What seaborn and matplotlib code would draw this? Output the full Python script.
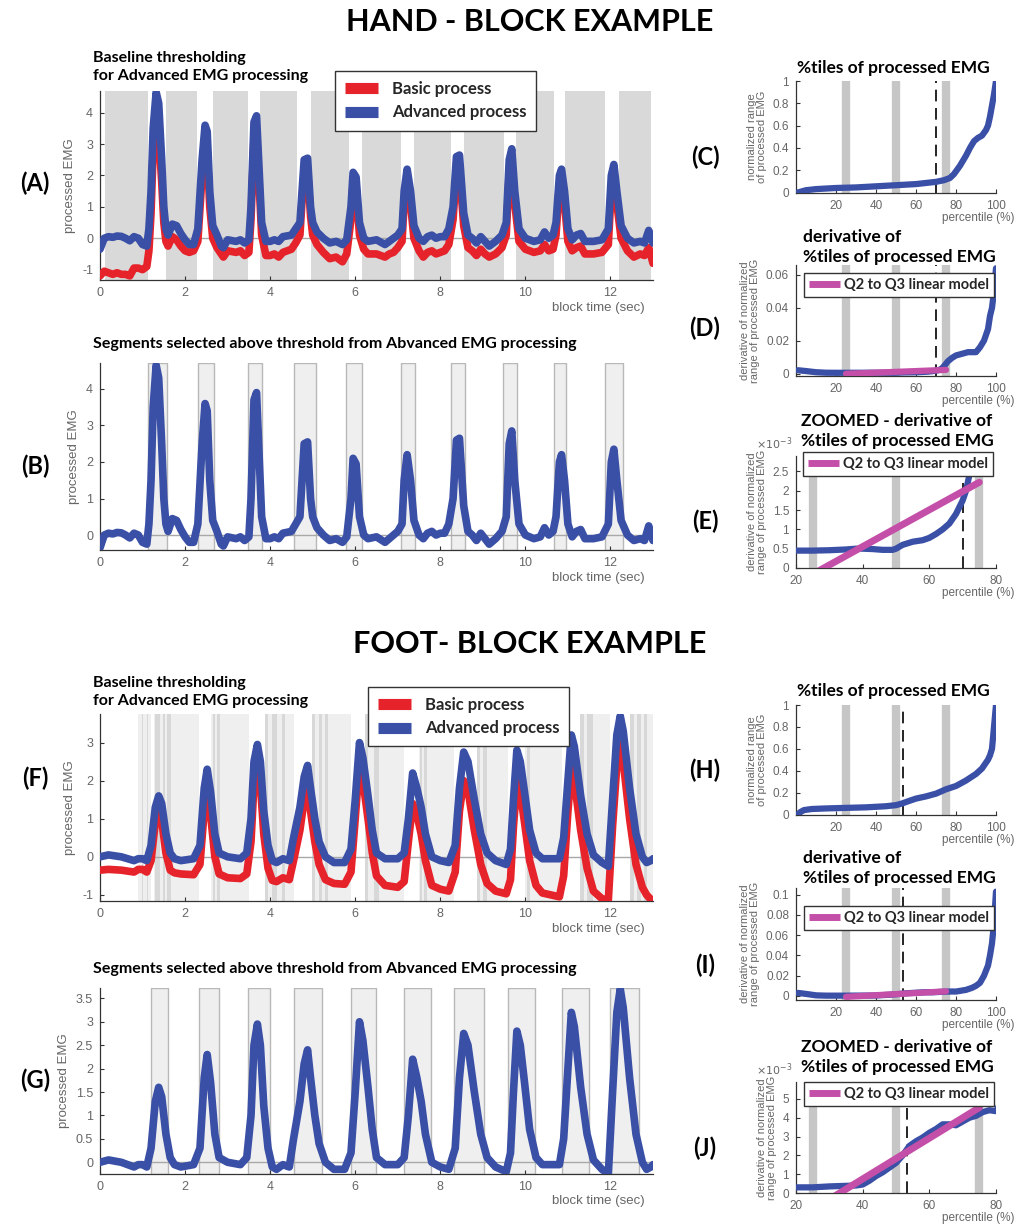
import matplotlib
matplotlib.use("Agg")
import matplotlib.pyplot as plt
from matplotlib.font_manager import FontProperties
from matplotlib.lines import Line2D
from matplotlib.ticker import FuncFormatter
import numpy as np
import seaborn as sns

# ---------------- data ----------------
hand_time = [0, 0.1, 0.2, 0.3, 0.4, 0.5, 0.6, 0.7, 0.8, 0.9, 1.0, 1.1, 1.15, 1.2, 1.25, 1.32, 1.38,
             1.45, 1.5, 1.55, 1.6, 1.7, 1.8, 1.9, 2.0, 2.1, 2.2, 2.3, 2.4, 2.47, 2.52, 2.58, 2.65,
             2.75, 2.85, 2.9, 3.0, 3.2, 3.3, 3.4, 3.5, 3.55, 3.62, 3.68, 3.73, 3.8, 3.9, 4.0, 4.1,
             4.2, 4.3, 4.5, 4.6, 4.7, 4.75, 4.8, 4.88, 4.95, 5.0, 5.1, 5.25, 5.4, 5.55, 5.7, 5.8,
             5.9, 5.95, 6.02, 6.1, 6.2, 6.3, 6.5, 6.7, 6.8, 6.9, 7.0, 7.1, 7.15, 7.22, 7.3, 7.38,
             7.5, 7.6, 7.7, 7.8, 7.9, 8.0, 8.1, 8.2, 8.3, 8.38, 8.45, 8.55, 8.65, 8.75, 8.85, 8.95,
             9.05, 9.15, 9.3, 9.45, 9.55, 9.62, 9.68, 9.75, 9.85, 10.0, 10.2, 10.35, 10.45, 10.55,
             10.65, 10.72, 10.8, 10.85, 10.92, 11.0, 11.1, 11.2, 11.3, 11.4, 11.6, 11.8, 11.95,
             12.02, 12.08, 12.15, 12.25, 12.4, 12.55, 12.7, 12.8, 12.9, 13.0]
hand_advanced = [-0.35, 0.0, 0.05, 0.03, 0.07, 0.06, 0.0, -0.08, 0.05, 0.0, -0.2, -0.25, 0.3, 1.5,
                 3.5, 4.65, 4.3, 2.5, 1.0, 0.3, 0.1, 0.45, 0.4, 0.15, -0.05, -0.2, -0.2, 0.3, 2.5,
                 3.6, 3.4, 1.5, 0.4, 0.1, -0.25, -0.3, -0.05, -0.1, -0.05, -0.15, -0.05, 1.0, 3.7,
                 3.9, 2.5, 0.5, -0.1, -0.1, -0.05, -0.1, 0.05, 0.1, 0.3, 0.5, 1.5, 2.5, 2.55, 1.0,
                 0.5, 0.2, 0.0, -0.15, -0.1, -0.2, -0.05, 1.0, 2.1, 1.95, 0.5, 0.0, -0.1, -0.05,
                 -0.2, -0.1, 0.0, 0.1, 0.3, 1.5, 2.2, 1.5, 0.4, 0.0, -0.1, 0.05, 0.1, 0.0, 0.05,
                 0.05, 0.3, 1.0, 2.6, 2.65, 0.8, 0.1, 0.0, -0.15, 0.05, -0.1, -0.25, -0.1, 0.1, 0.5,
                 2.5, 2.85, 1.5, 0.3, 0.0, -0.1, -0.05, 0.2, 0.0, 0.1, 0.5, 2.0, 2.2, 1.5, 0.3,
                 -0.05, 0.1, 0.15, -0.1, -0.1, -0.05, 0.3, 2.0, 2.35, 1.5, 0.4, 0.0, -0.15, -0.1,
                 -0.15, 0.25, -0.15]
hand_basic = [-1.2, -1.05, -1.1, -1.15, -1.1, -1.15, -1.15, -1.2, -0.95, -0.95, -1.0, -0.9, -0.4,
              0.8, 2.8, 3.6, 3.3, 1.8, 0.5, -0.1, -0.25, 0.05, -0.05, -0.25, -0.4, -0.45, -0.4,
              -0.1, 2.0, 3.0, 2.8, 1.0, 0.0, -0.3, -0.5, -0.6, -0.4, -0.45, -0.4, -0.55, -0.45,
              0.6, 3.2, 3.4, 2.0, 0.1, -0.55, -0.55, -0.5, -0.6, -0.45, -0.35, -0.15, 0.1, 1.2,
              2.1, 2.2, 0.7, 0.1, -0.2, -0.45, -0.65, -0.6, -0.75, -0.5, 0.6, 1.8, 1.6, 0.1,
              -0.35, -0.5, -0.5, -0.6, -0.5, -0.45, -0.3, -0.1, 1.1, 1.9, 1.1, 0.0, -0.4, -0.6,
              -0.45, -0.4, -0.5, -0.45, -0.4, -0.2, 0.6, 2.2, 2.2, 0.4, -0.3, -0.4, -0.55, -0.35,
              -0.5, -0.6, -0.5, -0.3, 0.1, 2.1, 2.4, 1.1, -0.1, -0.35, -0.45, -0.4, -0.2, -0.4,
              -0.35, 0.1, 1.7, 1.9, 1.1, -0.1, -0.4, -0.3, -0.25, -0.5, -0.5, -0.45, -0.2, 1.6,
              2.0, 1.1, 0.0, -0.4, -0.6, -0.5, -0.55, -0.3, -0.8]
hand_gray_bands = [(0.12, 1.14), (1.56, 2.28), (2.66, 3.47), (3.75, 4.64), (4.95, 5.85),
                   (6.17, 7.07), (7.38, 8.24), (8.55, 9.5), (9.77, 10.67), (10.94, 11.88),
                   (12.2, 12.96)]
hand_selected = [(1.14, 1.58), (2.3, 2.67), (3.48, 3.8), (4.56, 5.07), (5.79, 6.17),
                 (7.07, 7.4), (8.26, 8.57), (9.47, 9.8), (10.67, 10.96), (11.88, 12.3)]

foot_time = [0, 0.2, 0.5, 0.8, 0.9, 1.0, 1.1, 1.2, 1.3, 1.38, 1.45, 1.55, 1.65, 1.75, 1.9, 2.2,
             2.35, 2.45, 2.52, 2.6, 2.7, 2.8, 3.0, 3.3, 3.45, 3.55, 3.62, 3.7, 3.77, 3.85, 3.95,
             4.05, 4.15, 4.3, 4.45, 4.55, 4.7, 4.8, 4.88, 4.95, 5.05, 5.15, 5.3, 5.5, 5.75, 5.9,
             6.0, 6.1, 6.18, 6.3, 6.4, 6.5, 6.7, 7.0, 7.15, 7.25, 7.35, 7.45, 7.55, 7.65, 7.8,
             8.0, 8.2, 8.35, 8.45, 8.55, 8.65, 8.8, 8.95, 9.1, 9.3, 9.55, 9.65, 9.72, 9.8, 9.88,
             9.98, 10.1, 10.25, 10.4, 10.8, 10.9, 11.0, 11.08, 11.15, 11.3, 11.45, 11.6, 11.8,
             11.95, 12.05, 12.15, 12.23, 12.3, 12.45, 12.6, 12.75, 12.85, 12.95, 13.0]
foot_advanced = [0.0, 0.05, 0.0, -0.1, -0.05, -0.05, -0.1, 0.3, 1.3, 1.6, 1.4, 0.6, 0.1, -0.05,
                 -0.1, -0.05, 0.3, 1.8, 2.3, 1.7, 0.6, 0.1, 0.0, -0.05, 0.1, 1.0, 2.5, 2.95, 2.5,
                 1.2, 0.3, -0.1, -0.15, -0.05, -0.1, 0.5, 1.3, 2.1, 2.4, 1.8, 1.0, 0.4, 0.0,
                 -0.15, -0.15, 0.2, 1.5, 3.0, 2.6, 1.6, 0.7, 0.1, -0.05, -0.05, 0.1, 1.0, 2.2,
                 1.8, 1.3, 0.6, 0.0, -0.1, -0.15, 0.3, 1.8, 2.75, 2.5, 1.5, 0.6, 0.1, -0.1, -0.2,
                 0.2, 1.5, 2.8, 2.5, 1.7, 0.7, 0.1, -0.05, -0.05, 0.5, 2.0, 3.2, 2.9, 1.6, 0.6,
                 0.05, -0.15, -0.25, 1.5, 3.2, 3.7, 3.3, 1.8, 0.6, 0.0, -0.15, -0.1, -0.05]
foot_basic = [-0.35, -0.33, -0.35, -0.4, -0.33, -0.33, -0.4, -0.1, 0.9, 1.15, 0.95, 0.1, -0.35,
              -0.42, -0.45, -0.47, -0.2, 1.2, 1.65, 1.1, 0.0, -0.45, -0.55, -0.57, -0.45, 0.4,
              1.9, 2.3, 1.9, 0.6, -0.3, -0.62, -0.65, -0.55, -0.6, -0.1, 0.7, 1.5, 1.8, 1.2,
              0.4, -0.2, -0.6, -0.7, -0.72, -0.4, 1.0, 2.5, 2.0, 1.0, 0.1, -0.5, -0.75, -0.8,
              -0.65, 0.4, 1.4, 1.1, 0.6, -0.1, -0.75, -0.85, -0.9, -0.4, 1.2, 2.0, 1.75, 0.7,
              -0.2, -0.7, -0.9, -0.97, -0.6, 0.8, 1.95, 1.7, 0.9, -0.1, -0.75, -0.95, -1.05,
              -0.5, 1.2, 2.3, 2.0, 0.7, -0.3, -0.9, -1.1, -1.13, 0.8, 2.4, 2.95, 2.5, 1.0, -0.2,
              -0.8, -1.0, -1.12, -1.15]
foot_light_bands = [(0.9, 1.19), (1.28, 2.32), (2.62, 3.5), (3.88, 4.55), (4.98, 5.9),
                    (6.23, 7.14), (7.5, 8.32), (8.86, 9.6), (10.0, 10.86), (11.29, 12.0),
                    (12.46, 13.0)]
foot_dark_bands = [(0.98, 1.02), (1.1, 1.14), (1.3, 1.41), (1.49, 1.52), (1.58, 1.66),
                   (2.66, 2.71), (2.76, 2.82), (3.88, 3.95), (4.05, 4.15), (4.27, 4.35),
                   (4.98, 5.05), (5.15, 5.22), (5.3, 5.37), (6.23, 6.31), (6.43, 6.55),
                   (7.52, 7.58), (7.62, 7.68), (8.86, 8.94), (9.0, 9.09), (10.03, 10.11),
                   (11.29, 11.38), (11.45, 11.6), (12.46, 12.55), (12.62, 12.72), (12.78, 12.85)]
foot_selected = [(1.19, 1.59), (2.32, 2.79), (3.48, 3.99), (4.55, 5.23), (5.9, 6.49),
                 (7.14, 7.77), (8.32, 9.02), (9.59, 10.23), (10.86, 11.49), (11.98, 12.68)]

quartiles = [25, 50, 75]

hand_pct = [1, 5, 10, 20, 30, 40, 50, 60, 65, 70, 74, 77, 79, 82, 85, 87, 89, 91, 93, 95, 96,
            97, 98, 99, 100]
hand_pct_norm = [0.0, 0.02, 0.03, 0.04, 0.045, 0.055, 0.065, 0.075, 0.085, 0.095, 0.11, 0.13,
                 0.165, 0.24, 0.33, 0.40, 0.46, 0.49, 0.51, 0.56, 0.60, 0.68, 0.78, 0.88, 1.0]
hand_deriv_pct = [1, 5, 10, 15, 20, 25, 30, 35, 38, 40, 43, 46, 49, 50, 52, 55, 58, 60, 62, 64,
                  66, 68, 70, 71, 72, 73, 74, 76, 78, 80, 83, 86, 90, 92, 94, 96, 97, 98, 99, 100]
hand_deriv = [0.0020, 0.0015, 0.0008, 0.0005, 0.00045, 0.00045, 0.00046, 0.00048, 0.0005, 0.0005,
              0.00049, 0.00047, 0.00047, 0.0005, 0.0006, 0.00068, 0.00072, 0.00078, 0.00088,
              0.0010, 0.00115, 0.0014, 0.00175, 0.0020, 0.0024, 0.0032, 0.0045, 0.0075, 0.0095,
              0.011, 0.012, 0.013, 0.013, 0.016, 0.020, 0.027, 0.035, 0.040, 0.050, 0.064]
hand_fit_pct = [25, 75]
hand_fit = [-0.00016, 0.00222]
hand_cut = 70

foot_pct = [1, 2, 4, 8, 15, 25, 35, 45, 50, 53, 56, 60, 65, 70, 75, 80, 85, 90, 93, 96, 97, 98,
            99, 100]
foot_pct_norm = [0.0, 0.02, 0.04, 0.05, 0.055, 0.06, 0.065, 0.075, 0.085, 0.10, 0.12, 0.145,
                 0.165, 0.19, 0.23, 0.26, 0.31, 0.37, 0.42, 0.50, 0.54, 0.60, 0.80, 1.0]
foot_deriv_pct = [1, 5, 10, 15, 20, 25, 30, 35, 38, 40, 42, 44, 46, 48, 50, 52, 54, 56, 58, 60,
                  62, 64, 66, 68, 70, 72, 74, 76, 78, 80, 82, 85, 88, 90, 92, 94, 96, 97, 98, 99,
                  100]
foot_deriv = [0.0030, 0.0020, 0.0006, 0.0003, 0.0003, 0.0003, 0.00035, 0.00038, 0.0004, 0.00045,
              0.00065, 0.0009, 0.0011, 0.00135, 0.0016, 0.0020, 0.0025, 0.00275, 0.00295, 0.0032,
              0.0034, 0.00365, 0.00365, 0.0036, 0.0038, 0.0040, 0.0041, 0.0043, 0.0044, 0.00435,
              0.0050, 0.0060, 0.0080, 0.0100, 0.0130, 0.020, 0.030, 0.040, 0.052, 0.072, 0.103]
foot_fit_pct = [25, 75]
foot_fit = [-0.00088, 0.00454]
foot_cut = 53.3

# ---------------- style ----------------
RED = "#e6232b"
BLUE = "#3a4fa6"
MAGENTA = "#c44fa8"
TICK_GRAY = "#666666"
BOLD = "Lato"

sns.set_style("ticks")
plt.rcParams["font.family"] = ["Liberation Sans", "DejaVu Sans"]
plt.rcParams["axes.unicode_minus"] = False

W, H = 1017, 1225
fig = plt.figure(figsize=(W / 100, H / 100), dpi=100)


def axes_px(l, t, r, b):
    return fig.add_axes([l / W, 1 - b / H, (r - l) / W, (b - t) / H])


def ftext(x, y, s, size, ha="left", **kw):
    fig.text(x / W, 1 - y / H, s, fontsize=size, ha=ha, va="center",
             family=BOLD, weight="bold", color="black", **kw)


def base_style(ax):
    ax.set_facecolor("none")
    for s in ["top", "right"]:
        ax.spines[s].set_visible(False)
    for s in ["left", "bottom"]:
        ax.spines[s].set_color("#333333")
        ax.spines[s].set_linewidth(0.9)
    ax.tick_params(direction="in", length=3, width=0.8, color="#333333",
                   labelcolor=TICK_GRAY, labelsize=9, pad=5)
    ax.yaxis.set_major_formatter(FuncFormatter(lambda v, p: "%g" % v))


def line(ax, x, y, color, lw, z=3):
    sns.lineplot(x=np.asarray(x), y=np.asarray(y), ax=ax, color=color, linewidth=lw,
                 estimator=None, sort=False, legend=False, zorder=z,
                 solid_capstyle="round", solid_joinstyle="round")


def time_axes(ax, ylim, yticks):
    base_style(ax)
    ax.set_xlim(0, 13)
    ax.set_ylim(*ylim)
    ax.set_xticks(range(0, 13, 2))
    ax.set_yticks(yticks)
    ax.axhline(0, color="#a8a8a8", lw=1.0, zorder=1)
    ax.set_xlabel("block time (sec)", color=TICK_GRAY, fontsize=9.5)
    ax.xaxis.set_label_coords(0.985, -0.115)
    ax.xaxis.label.set_horizontalalignment("right")
    ax.set_ylabel("processed EMG", color=TICK_GRAY, fontsize=9.5)


def pct_axes(ax, xlim, ylim, xticks, yticks, ylabel, cut, scale=None):
    base_style(ax)
    ax.set_xlim(*xlim)
    ax.set_ylim(*ylim)
    ax.set_xticks(xticks)
    ax.set_yticks(yticks)
    ax.tick_params(labelsize=8.5)
    for q in quartiles:
        ax.axvline(q, color="#c6c6c6", lw=6, zorder=1)
    ax.axvline(cut, color="black", lw=1.2, ls=(0, (7, 4)), zorder=2)
    ax.set_xlabel("percentile (%)", color=TICK_GRAY, fontsize=8.5)
    ax.xaxis.set_label_coords(1.095, -0.17)
    ax.xaxis.label.set_horizontalalignment("right")
    ax.set_ylabel(ylabel, color=TICK_GRAY, fontsize=8, linespacing=1.0)
    if scale is not None:
        ax.yaxis.set_major_formatter(FuncFormatter(lambda v, p: "%g" % round(v * scale, 6)))
        ax.text(-0.02, 1.04, r"$\times10^{-3}$", transform=ax.transAxes, ha="right",
                va="bottom", color=TICK_GRAY, fontsize=8)


def fit_legend(ax, x, y):
    ax.legend(handles=[Line2D([], [], color=MAGENTA, lw=5, solid_capstyle="butt")],
              labels=["Q2 to Q3 linear model"], loc="upper left",
              bbox_to_anchor=(x / W, 1 - y / H), bbox_transform=fig.transFigure,
              prop=FontProperties(family=BOLD, weight="bold", size=10.5),
              frameon=True, fancybox=False, edgecolor="#333333", framealpha=1,
              handlelength=2.1, handletextpad=0.3, borderpad=0.35, borderaxespad=0)
    ax.get_legend().get_frame().set_linewidth(1.0)


def main_legend(ax, x, y):
    handles = [Line2D([], [], color=RED, lw=8, solid_capstyle="butt"),
               Line2D([], [], color=BLUE, lw=8, solid_capstyle="butt")]
    ax.legend(handles=handles, labels=["Basic process", "Advanced process"], loc="upper left",
              bbox_to_anchor=(x / W, 1 - y / H), bbox_transform=fig.transFigure,
              prop=FontProperties(family=BOLD, weight="bold", size=12),
              frameon=True, fancybox=False, edgecolor="#333333", framealpha=1,
              handlelength=2.0, handletextpad=0.8, borderpad=0.6, labelspacing=0.45,
              borderaxespad=0)
    ax.get_legend().get_frame().set_linewidth(1.0)


# ---------------- HAND ----------------
ftext(530, 22, "HAND - BLOCK EXAMPLE", 22, ha="center")

axA = axes_px(100, 91, 653, 280)
time_axes(axA, (-1.33, 4.69), range(-1, 5))
for a, b in hand_gray_bands:
    axA.axvspan(a, b, color="#d9d9d9", lw=0, zorder=0)
line(axA, hand_time, hand_basic, RED, 5.5)
line(axA, hand_time, hand_advanced, BLUE, 5.5, z=4)
main_legend(axA, 335, 71)
ftext(93, 67, "Baseline thresholding\nfor Advanced EMG processing", 11.5, linespacing=1.3)

axB = axes_px(100, 363, 653, 550)
time_axes(axB, (-0.41, 4.71), range(0, 5))
for a, b in hand_selected:
    axB.axvspan(a, b, facecolor="#efefef", edgecolor="#b8b8b8", lw=1, zorder=0)
line(axB, hand_time, hand_advanced, BLUE, 5.5)
ftext(93, 344, "Segments selected above threshold from Abvanced EMG processing", 11.5)

axC = axes_px(796, 81, 996, 193)
pct_axes(axC, (0, 100), (-0.005, 1.0), [20, 40, 60, 80, 100], [0, 0.2, 0.4, 0.6, 0.8, 1],
         "normalized range\nof processed EMG", hand_cut)
line(axC, hand_pct, hand_pct_norm, BLUE, 4.5)
ftext(893, 68, "%tiles of processed EMG", 12.5, ha="center")

axD = axes_px(796, 265, 996, 376)
pct_axes(axD, (0, 100), (-0.0015, 0.066), [20, 40, 60, 80, 100], [0, 0.02, 0.04, 0.06],
         "derivative of normalized\nrange of processed EMG", hand_cut)
line(axD, hand_deriv_pct, hand_deriv, BLUE, 4.5)
line(axD, hand_fit_pct, hand_fit, MAGENTA, 4.5, z=4)
fit_legend(axD, 804, 273)
ftext(803, 247, "derivative of\n%tiles of processed EMG", 12.5, linespacing=1.25)

axE = axes_px(796, 456, 996, 568)
pct_axes(axE, (20, 80), (0, 0.0029), [20, 40, 60, 80],
         [0, 0.0005, 0.001, 0.0015, 0.002, 0.0025],
         "derivative of normalized\nrange of processed EMG", hand_cut, scale=1e3)
line(axE, hand_deriv_pct, hand_deriv, BLUE, 4.5)
line(axE, hand_fit_pct, hand_fit, MAGENTA, 5, z=4)
fit_legend(axE, 803, 452)
ftext(897, 431, "ZOOMED - derivative of\n%tiles of processed EMG", 12.5, ha="center",
      linespacing=1.25)

# ---------------- FOOT ----------------
ftext(530, 644, "FOOT- BLOCK EXAMPLE", 22, ha="center")

axF = axes_px(100, 714, 653, 901)
time_axes(axF, (-1.16, 3.75), range(-1, 4))
for a, b in foot_light_bands:
    axF.axvspan(a, b, color="#efefef", lw=0, zorder=0)
for a, b in foot_dark_bands:
    axF.axvspan(a, b, color="#d8d8d8", lw=0, zorder=0)
line(axF, foot_time, foot_basic, RED, 5.5)
line(axF, foot_time, foot_advanced, BLUE, 5.5, z=4)
main_legend(axF, 368, 687)
ftext(93, 692, "Baseline thresholding\nfor Advanced EMG processing", 11.5, linespacing=1.3)

axG = axes_px(100, 988, 653, 1174)
time_axes(axG, (-0.25, 3.72), [0, 0.5, 1, 1.5, 2, 2.5, 3, 3.5])
for a, b in foot_selected:
    axG.axvspan(a, b, facecolor="#efefef", edgecolor="#b8b8b8", lw=1, zorder=0)
line(axG, foot_time, foot_advanced, BLUE, 5.5)
ftext(93, 969, "Segments selected above threshold from Abvanced EMG processing", 11.5)

axH = axes_px(796, 705, 996, 815)
pct_axes(axH, (0, 100), (-0.005, 1.0), [20, 40, 60, 80, 100], [0, 0.2, 0.4, 0.6, 0.8, 1],
         "normalized range\nof processed EMG", foot_cut)
line(axH, foot_pct, foot_pct_norm, BLUE, 4.5)
ftext(893, 691, "%tiles of processed EMG", 12.5, ha="center")

axI = axes_px(796, 888, 996, 1000)
pct_axes(axI, (0, 100), (-0.004, 0.1066), [20, 40, 60, 80, 100],
         [0, 0.02, 0.04, 0.06, 0.08, 0.1],
         "derivative of normalized\nrange of processed EMG", foot_cut)
line(axI, foot_deriv_pct, foot_deriv, BLUE, 4.5)
line(axI, foot_fit_pct, foot_fit, MAGENTA, 4.5, z=4)
fit_legend(axI, 804, 906)
ftext(803, 868, "derivative of\n%tiles of processed EMG", 12.5, linespacing=1.25)

axJ = axes_px(796, 1082, 996, 1193)
pct_axes(axJ, (20, 80), (0, 0.0059), [20, 40, 60, 80], [0, 0.001, 0.002, 0.003, 0.004, 0.005],
         "derivative of normalized\nrange of processed EMG", foot_cut, scale=1e3)
line(axJ, foot_deriv_pct, foot_deriv, BLUE, 4.5)
line(axJ, foot_fit_pct, foot_fit, MAGENTA, 5, z=4)
fit_legend(axJ, 804, 1082)
ftext(897, 1057, "ZOOMED - derivative of\n%tiles of processed EMG", 12.5, ha="center",
      linespacing=1.25)

# ---------------- panel letters ----------------
for letter, x, y in [("(A)", 35, 183), ("(B)", 35, 466), ("(C)", 705, 157), ("(D)", 705, 328),
                     ("(E)", 705, 521), ("(F)", 35, 778), ("(G)", 35, 1080), ("(H)", 705, 770),
                     ("(I)", 705, 965), ("(J)", 705, 1148)]:
    ftext(x, y, letter, 17, ha="center")

fig.savefig("out.png", dpi=100)
